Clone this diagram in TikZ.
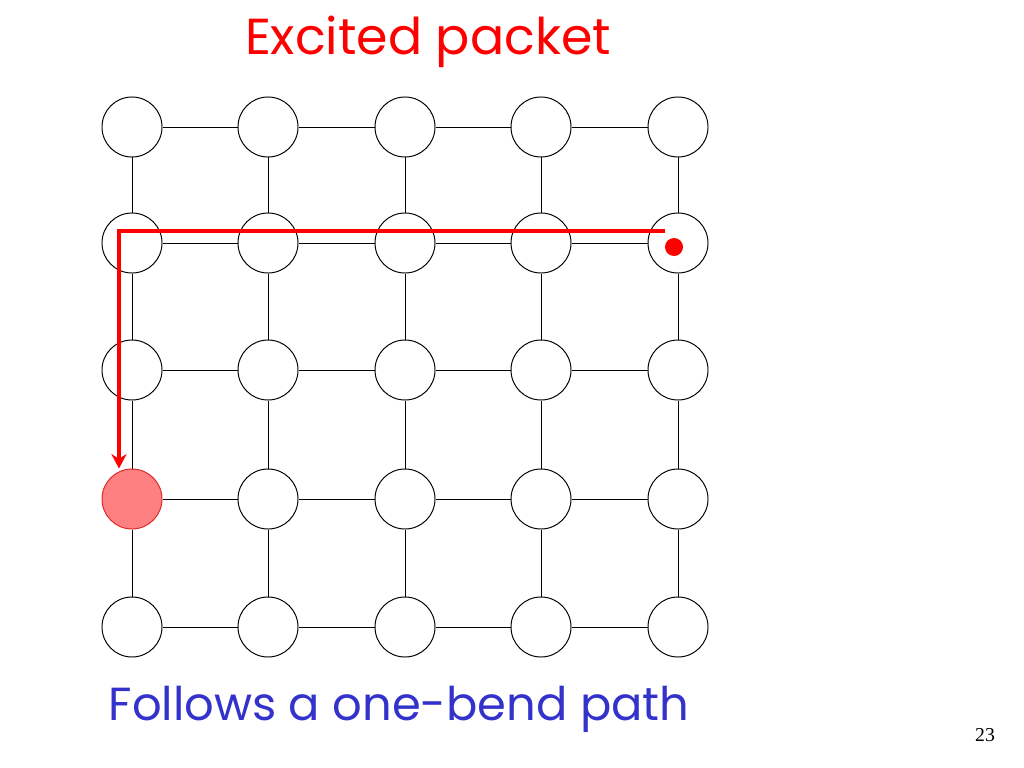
\documentclass[tikz,border=0pt]{standalone}
\usepackage{fontspec}
\setmainfont{Poppins}
\newfontfamily\pagefont{Liberation Serif}
\usetikzlibrary{arrows.meta}
\definecolor{pktred}{RGB}{255,0,0}
\definecolor{pktpink}{RGB}{255,128,128}
\definecolor{pinkedge}{RGB}{220,40,40}
\definecolor{capblue}{RGB}{51,51,204}
\tikzset{
  router/.style={circle,draw,fill=white,minimum size=1.5cm,inner sep=0pt,line width=0.7pt},
  cell41/.style={fill=pktpink,draw=pinkedge},
  link/.style={line width=0.7pt},
  route/.style={pktred,line width=2.6pt},
}
\begin{document}
\begin{tikzpicture}[x=0.025cm,y=-0.025cm,>={Stealth[length=0.36cm,width=0.38cm]}]
  \useasboundingbox (0,0) rectangle (1024,768);
  % 5x5 mesh of routers
  \foreach \py [count=\row] in {127,243,370,499,627}
    \foreach \px [count=\col] in {132,268,405,541,678}
      \node[router,cell\row\col/.try] (n\row\col) at (\px,\py) {};
  \foreach \row in {1,...,5}
    \foreach \col/\nxt in {1/2,2/3,3/4,4/5} {
      \draw[link] (n\row\col) -- (n\row\nxt);
      \draw[link] (n\col\row) -- (n\nxt\row);
    }
  % the packet and its route
  \node[circle,fill=pktred,minimum size=0.45cm,inner sep=0pt] (pkt) at (674,247) {};
  \coordinate (start) at (665,231);
  \coordinate (bend) at (119,231);
  \draw[route,->] (start) -- (bend) -- (bend |- n41.north);
  \node[text=pktred,font=\fontsize{36}{40}\selectfont,anchor=base] (title) at (428,55) {Excited packet};
  \node[text=capblue,font=\fontsize{33}{38}\selectfont,anchor=base] (caption) at (399,720) {Follows a one-bend path};
  \node[font=\pagefont\fontsize{14}{16}\selectfont,anchor=base] (pagenum) at (985,741) {23};
\end{tikzpicture}
\end{document}
